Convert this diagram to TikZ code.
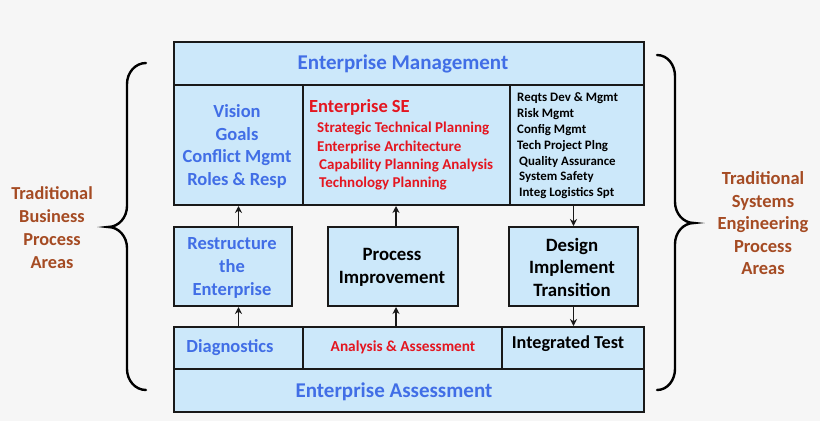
\documentclass[tikz,border=0pt]{standalone}
\usepackage{fontspec}
\setmainfont{Carlito}
\usetikzlibrary{arrows.meta}
\definecolor{bgc}{RGB}{246,246,246}
\definecolor{boxfill}{RGB}{204,232,250}
\definecolor{tblue}{RGB}{65,110,230}
\definecolor{tred}{RGB}{228,22,32}
\definecolor{tbrown}{RGB}{165,75,35}
\definecolor{edge}{RGB}{25,25,25}
\tikzset{
  box/.style={draw=edge, line width=2pt, fill=boxfill, rectangle, inner sep=0pt, anchor=north west},
  lbl/.style={inner sep=0pt, font=\bfseries},
  arr/.style={draw=edge, line width=1.8pt, -{Stealth[length=7pt,width=7pt]}},
  brace/.style={draw=black, line width=2.4pt, line cap=round}
}
\newcommand{\fsz}[2]{\fontsize{#1}{#2}\selectfont}
\begin{document}
\begin{tikzpicture}[x=1pt,y=-1pt]
\fill[bgc] (0,0) rectangle (820,421);
\useasboundingbox (0,0) rectangle (820,421);
% boxes
\node[box, minimum width=470pt, minimum height=43pt] (em) at (173,41) {};
\node[box, minimum width=129pt, minimum height=120pt] (vis) at (173,84) {};
\node[box, minimum width=207pt, minimum height=120pt] (ese) at (302,84) {};
\node[box, minimum width=134pt, minimum height=120pt] (sys) at (509,84) {};
\node[box, minimum width=118pt, minimum height=79pt] (rst) at (173,226) {};
\node[box, minimum width=130pt, minimum height=79pt] (pim) at (327,226) {};
\node[box, minimum width=129pt, minimum height=79pt] (dit) at (508,226) {};
\node[box, minimum width=129pt, minimum height=42pt] (dia) at (173,326) {};
\node[box, minimum width=199pt, minimum height=42pt] (ana) at (302,326) {};
\node[box, minimum width=142pt, minimum height=42pt] (itg) at (501,326) {};
\node[box, minimum width=470pt, minimum height=43pt] (eas) at (173,368) {};
% texts
\node[lbl, anchor=base, text=tblue, font=\bfseries\fsz{21}{25}] (emt) at (403,69) {Enterprise Management};
\node[lbl, text=tblue, align=center, font=\bfseries\fsz{18.5}{22.7}] (vist) at (237,146.5) {Vision\\Goals\\Conflict Mgmt\\Roles \& Resp};
\node[lbl, text=tred, anchor=base west, font=\bfseries\fsz{18.5}{22}] (eset) at (309,112) {Enterprise SE};
\node[lbl, text=tred, anchor=base west, font=\bfseries\fsz{15}{18}] (es1) at (317,132) {Strategic Technical Planning};
\node[lbl, text=tred, anchor=base west, font=\bfseries\fsz{15}{18}] (es2) at (317,151) {Enterprise Architecture};
\node[lbl, text=tred, anchor=base west, font=\bfseries\fsz{15}{18}] (es3) at (319,169) {Capability Planning Analysis};
\node[lbl, text=tred, anchor=base west, font=\bfseries\fsz{15}{18}] (es4) at (319,187) {Technology Planning};
\node[lbl, text=black, anchor=west, align=left, font=\bfseries\fsz{12.9}{15.8}] (syst) at (517,146) {Reqts Dev \& Mgmt\\Risk Mgmt\\Config Mgmt\\Tech Project Plng\\\hspace{2pt}Quality Assurance\\\hspace{2pt}System Safety\\\hspace{2pt}Integ Logistics Spt};
\node[lbl, text=tblue, align=center, font=\bfseries\fsz{18.5}{23}] (rstt) at (232,268) {Restructure\\the\\Enterprise};
\node[lbl, text=black, align=center, font=\bfseries\fsz{18.8}{23}] (pimt) at (392,267.5) {Process\\Improvement};
\node[lbl, text=black, align=center, font=\bfseries\fsz{18.8}{22.5}] (ditt) at (572,267) {Design\\Implement\\Transition};
\node[lbl, anchor=base, text=tblue, font=\bfseries\fsz{18.5}{22}] (diat) at (230,352) {Diagnostics};
\node[lbl, anchor=base, text=tred, font=\bfseries\fsz{15.3}{18}] (anat) at (403,351) {Analysis \& Assessment};
\node[lbl, anchor=base, text=black, font=\bfseries\fsz{18.2}{22}] (itgt) at (568,348) {Integrated Test};
\node[lbl, anchor=base, text=tblue, font=\bfseries\fsz{21}{25}] (east) at (394,397) {Enterprise Assessment};
\node[lbl, text=tbrown, align=center, font=\bfseries\fsz{18.3}{23}] (lt) at (52,228) {Traditional\\Business\\Process\\Areas};
\node[lbl, text=tbrown, align=center, font=\bfseries\fsz{18.5}{22.5}] (rt) at (763,223.5) {Traditional\\Systems\\Engineering\\Process\\Areas};
% arrows
\draw[arr] (rst.north -| vis.south) -- (vis.south);
\draw[arr] (dia.north) -- (rst.south -| dia.north);
\draw[arr] ([xshift=3pt]pim.north) -- ([xshift=3pt]pim.north |- ese.south);
\draw[arr] ([xshift=3pt]pim.south |- ana.north) -- ([xshift=3pt]pim.south);
\draw[arr] (dit.north |- sys.south) -- (dit.north);
\draw[arr] (dit.south) -- (dit.south |- itg.north);
% braces
\coordinate (lb1) at (146,63);
\coordinate (lb2) at (146,390);
\coordinate (lbt) at (108,227);
\draw[brace] (lb1) to[out=180,in=90] (127,84) -- (127,206) to[out=-90,in=0] (lbt)
  to[out=0,in=90] (127,248) -- (127,369) to[out=-90,in=180] (lb2);
\coordinate (rb1) at (657,55);
\coordinate (rb2) at (657,390);
\coordinate (rbt) at (694,223);
\draw[brace] (rb1) to[out=0,in=90] (675,76) -- (675,202) to[out=-90,in=180] (rbt)
  to[out=180,in=90] (675,244) -- (675,369) to[out=-90,in=0] (rb2);
\end{tikzpicture}
\end{document}
